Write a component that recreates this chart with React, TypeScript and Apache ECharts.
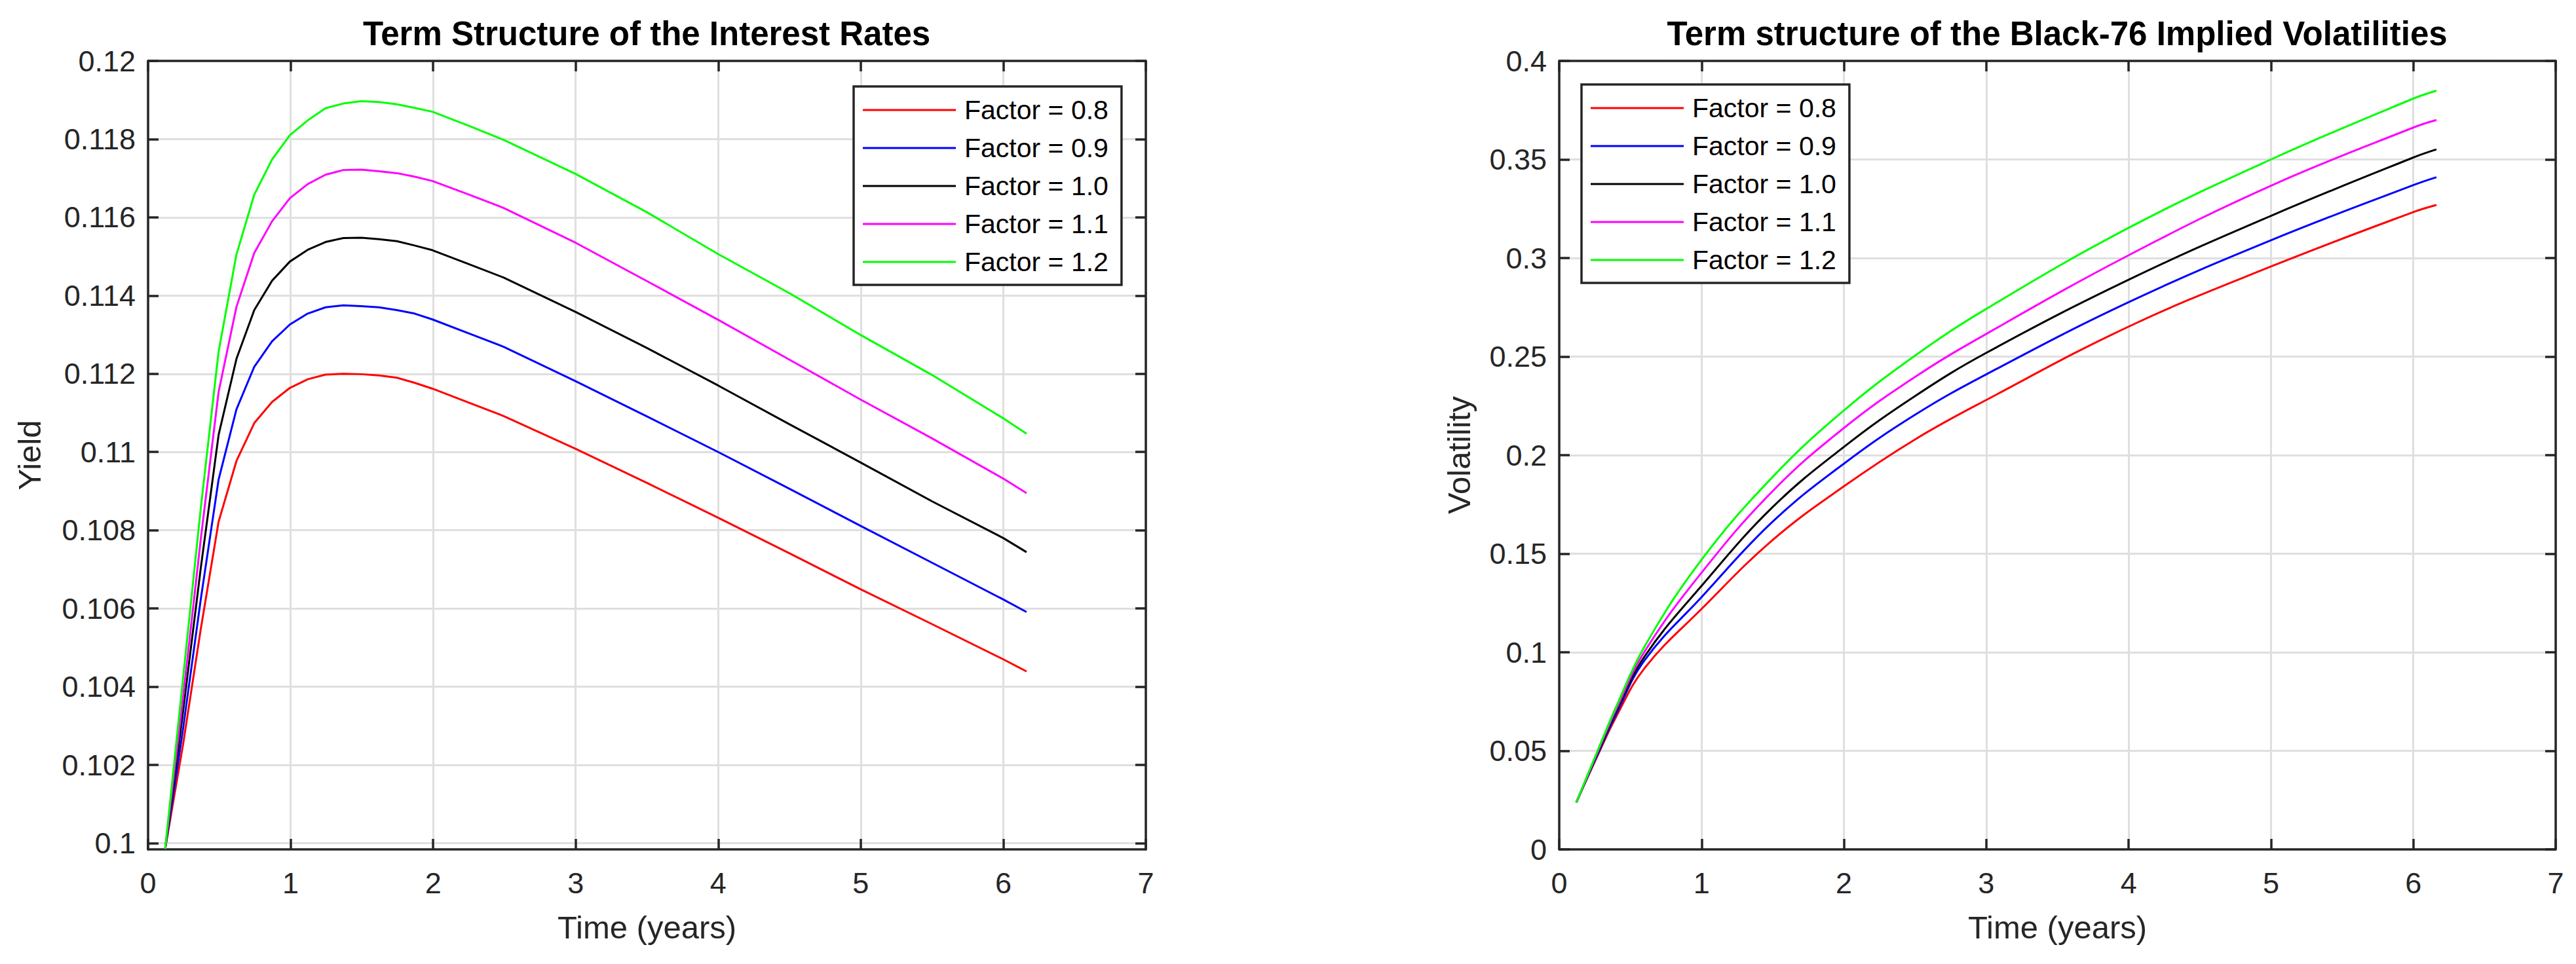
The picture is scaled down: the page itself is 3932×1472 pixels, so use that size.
import React, { useEffect, useRef } from "react";
import * as echarts from "echarts";

const FONT = "'Liberation Sans', Arial, Helvetica, sans-serif";
const AXIS_COLOR = "#262626";
const GRID_COLOR = "#dfdfdf";

const FACTOR_NAMES = ["Factor = 0.8", "Factor = 0.9", "Factor = 1.0", "Factor = 1.1", "Factor = 1.2"];
const FACTOR_COLORS = ["#ff0000", "#0000ff", "#000000", "#ff00ff", "#00ff00"];

// Left chart: term structure of interest rates
const YIELD_TIMES = [0.12, 0.245, 0.37, 0.495, 0.62, 0.745, 0.87, 0.995, 1.12, 1.245, 1.37, 1.495, 1.62, 1.745, 1.87, 1.995, 2.245, 2.495, 3, 3.5, 4, 4.5, 5, 5.5, 6, 6.163];
const YIELD_F08 = [0.09985, 0.10251, 0.10548, 0.10822, 0.10977, 0.11074, 0.11128, 0.11164, 0.11186, 0.11198, 0.112, 0.11199, 0.11196, 0.1119, 0.11177, 0.11162, 0.11127, 0.11092, 0.11008, 0.10921, 0.10832, 0.10741, 0.10649, 0.1056, 0.1047, 0.10439];
const YIELD_F09 = [0.09985, 0.10291, 0.10624, 0.1093, 0.11109, 0.11218, 0.11283, 0.11326, 0.11354, 0.1137, 0.11375, 0.11373, 0.1137, 0.11363, 0.11354, 0.11339, 0.11304, 0.11269, 0.11181, 0.11091, 0.11, 0.10906, 0.10811, 0.10717, 0.10623, 0.10591];
const YIELD_F10 = [0.09985, 0.10335, 0.10704, 0.11044, 0.11238, 0.11363, 0.11438, 0.11487, 0.11517, 0.11537, 0.11547, 0.11548, 0.11544, 0.11539, 0.11528, 0.11516, 0.11481, 0.11446, 0.11358, 0.11266, 0.1117, 0.11071, 0.10973, 0.10874, 0.1078, 0.10744];
const YIELD_F11 = [0.09985, 0.10371, 0.10778, 0.11154, 0.11371, 0.11509, 0.1159, 0.11649, 0.11685, 0.11709, 0.11721, 0.11722, 0.11718, 0.11713, 0.11704, 0.11693, 0.11659, 0.11624, 0.11535, 0.11437, 0.11338, 0.11236, 0.11134, 0.11035, 0.10932, 0.10895];
const YIELD_F12 = [0.09985, 0.1042, 0.10857, 0.11257, 0.11505, 0.11658, 0.11748, 0.1181, 0.11848, 0.11879, 0.11891, 0.11897, 0.11895, 0.11889, 0.1188, 0.1187, 0.11835, 0.11798, 0.11711, 0.11613, 0.11506, 0.11406, 0.11299, 0.11197, 0.11086, 0.11047];
const YIELD_TICKS = [0.1, 0.102, 0.104, 0.106, 0.108, 0.11, 0.112, 0.114, 0.116, 0.118, 0.12];
const YIELD_MIN = 0.09984;
const YIELD_MAX = 0.12;

// Right chart: Black-76 implied volatilities
const VOL_TIMES = [0.12, 0.27, 0.4, 0.6, 1, 1.5, 2, 2.5, 3, 4, 5, 6, 6.162];
const VOL_F08 = [0.0238, 0.0476, 0.0673, 0.092, 0.122, 0.157, 0.1842, 0.208, 0.228, 0.2652, 0.2957, 0.3233, 0.3269];
const VOL_F09 = [0.0238, 0.0483, 0.0686, 0.096, 0.128, 0.1663, 0.1957, 0.2205, 0.241, 0.2776, 0.309, 0.337, 0.341];
const VOL_F10 = [0.0238, 0.049, 0.0699, 0.0979, 0.1337, 0.1737, 0.2042, 0.23, 0.2519, 0.289, 0.3214, 0.351, 0.3551];
const VOL_F11 = [0.0238, 0.0495, 0.0711, 0.1004, 0.1404, 0.1818, 0.2138, 0.2397, 0.2615, 0.3014, 0.3367, 0.3662, 0.37];
const VOL_F12 = [0.0238, 0.0501, 0.0724, 0.103, 0.147, 0.189, 0.2227, 0.2505, 0.2742, 0.3153, 0.35, 0.3809, 0.3849];

const X_MIN = 0;
const X_MAX = 7;
const X_INTERVAL = 1;

const YIELD_SERIES = [YIELD_F08, YIELD_F09, YIELD_F10, YIELD_F11, YIELD_F12];
const VOL_SERIES = [VOL_F08, VOL_F09, VOL_F10, VOL_F11, VOL_F12];

const lineStyleAxis = { color: AXIS_COLOR, width: 3.5 };

function xAxesFor(gridIndex: number) {
  return [
    {
      type: "value",
      gridIndex,
      position: "bottom",
      min: X_MIN,
      max: X_MAX,
      interval: X_INTERVAL,
      axisLine: { show: true, onZero: false, lineStyle: lineStyleAxis },
      axisTick: { show: true, inside: true, length: 16, lineStyle: lineStyleAxis },
      axisLabel: { color: AXIS_COLOR, fontSize: 45, fontFamily: FONT, margin: 29 },
      splitLine: { show: true, lineStyle: { color: GRID_COLOR, width: 3 } },
      name: "Time (years)",
      nameLocation: "middle",
      nameGap: 94,
      nameTextStyle: { color: AXIS_COLOR, fontSize: 49, fontFamily: FONT },
    },
    {
      type: "value",
      gridIndex,
      position: "top",
      min: X_MIN,
      max: X_MAX,
      interval: X_INTERVAL,
      axisLine: { show: true, onZero: false, lineStyle: lineStyleAxis },
      axisTick: { show: true, inside: true, length: 16, lineStyle: lineStyleAxis },
      axisLabel: { show: false },
      splitLine: { show: false },
    },
  ];
}

function yAxesFor(gridIndex: number, cfg: any, name: string, nameGap: number) {
  const labelFmt = (v: number) => String(+Number(v).toFixed(4));
  const base = {
    type: "value",
    gridIndex,
    min: cfg.min,
    max: cfg.max,
    axisLine: { show: true, onZero: false, lineStyle: lineStyleAxis },
  };
  const tickCustom = cfg.ticks ? { customValues: cfg.ticks } : {};
  const interval = cfg.interval ? { interval: cfg.interval } : {};
  return [
    {
      ...base,
      ...interval,
      position: "left",
      axisTick: { show: true, inside: true, length: 16, lineStyle: lineStyleAxis, ...tickCustom },
      axisLabel: { color: AXIS_COLOR, fontSize: 45, fontFamily: FONT, margin: 19, formatter: labelFmt, ...tickCustom },
      splitLine: { show: true, lineStyle: { color: GRID_COLOR, width: 3 } },
      name,
      nameLocation: "middle",
      nameGap,
      nameTextStyle: { color: AXIS_COLOR, fontSize: 49, fontFamily: FONT },
    },
    {
      ...base,
      ...interval,
      position: "right",
      axisTick: { show: true, inside: true, length: 16, lineStyle: lineStyleAxis, ...tickCustom },
      axisLabel: { show: false, ...tickCustom },
      splitLine: { show: false },
    },
  ];
}

function legendFor(left: number, top: number) {
  return {
    data: FACTOR_NAMES,
    orient: "vertical",
    left,
    top,
    padding: [15, 20, 14, 14],
    itemWidth: 142,
    itemHeight: 3,
    itemGap: 16,
    icon: "rect",
    borderColor: AXIS_COLOR,
    borderWidth: 3.5,
    borderRadius: 0,
    backgroundColor: "#ffffff",
    selectedMode: false,
    textStyle: { color: "#000000", fontSize: 41, lineHeight: 42, fontFamily: FONT, padding: [0, 0, 0, 8] },
  };
}

export default function App() {
  const ref = useRef<HTMLDivElement>(null);

  useEffect(() => {
    if (!ref.current) return;
    const chart = echarts.init(ref.current, null, { renderer: "svg" });

    const series: any[] = [];
    FACTOR_NAMES.forEach((name, i) => {
      series.push({
        type: "line",
        name,
        xAxisIndex: 0,
        yAxisIndex: 0,
        data: YIELD_TIMES.map((t, k) => [t, YIELD_SERIES[i][k]]),
        symbol: "none",
        color: FACTOR_COLORS[i],
        lineStyle: { color: FACTOR_COLORS[i], width: 3 },
        z: 3,
      });
    });
    FACTOR_NAMES.forEach((name, i) => {
      series.push({
        type: "line",
        name,
        xAxisIndex: 2,
        yAxisIndex: 2,
        data: VOL_TIMES.map((t, k) => [t, VOL_SERIES[i][k]]),
        symbol: "none",
        smooth: 0.4,
        color: FACTOR_COLORS[i],
        lineStyle: { color: FACTOR_COLORS[i], width: 3 },
        z: 3,
      });
    });

    const option: any = {
      animation: false,
      backgroundColor: "#ffffff",
      title: [
        {
          text: "Term Structure of the Interest Rates",
          left: 987,
          top: 26,
          textAlign: "center",
          padding: 0,
          textStyle: { color: "#000000", fontSize: 51, fontWeight: "bold", fontFamily: FONT },
        },
        {
          text: "Term structure of the Black-76 Implied Volatilities",
          left: 3140,
          top: 26,
          textAlign: "center",
          padding: 0,
          textStyle: { color: "#000000", fontSize: 51, fontWeight: "bold", fontFamily: FONT },
        },
      ],
      grid: [
        { left: 226, right: 3932 - 1749, top: 93, bottom: 1472 - 1297, containLabel: false },
        { left: 2380, right: 3932 - 3901, top: 93, bottom: 1472 - 1297, containLabel: false },
      ],
      xAxis: [...xAxesFor(0), ...xAxesFor(1)],
      yAxis: [
        ...yAxesFor(0, { min: YIELD_MIN, max: YIELD_MAX, ticks: YIELD_TICKS }, "Yield", 157),
        ...yAxesFor(1, { min: 0, max: 0.4, interval: 0.05 }, "Volatility", 129),
      ],
      legend: [legendFor(1303, 132), legendFor(2414, 129)],
      series,
    };

    chart.setOption(option);
    return () => chart.dispose();
  }, []);

  return (
    <div
      ref={ref}
      style={{ position: "fixed", left: 0, top: 0, width: 3932, height: 1472, background: "#ffffff" }}
    />
  );
}
